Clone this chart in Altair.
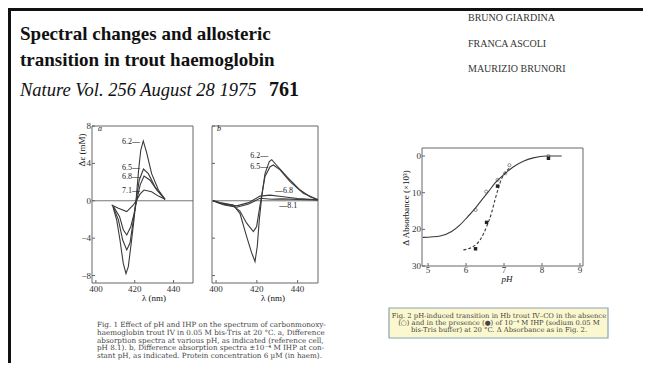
import altair as alt
import pandas as pd

FONT = "Liberation Serif"
CAPFONT = "DejaVu Serif"
INK = "#3a3a3a"
AX = "#666666"

# ---------------- header ----------------
title_lines = ["Spectral changes and allosteric", "transition in trout haemoglobin"]
journal = "Nature Vol. 256 August 28 1975"
page_no = "761"
authors = ["BRUNO GIARDINA", "FRANCA ASCOLI", "MAURIZIO BRUNORI"]

# ---------------- Fig. 1a : difference spectra at various pH ----------------
a_names = ["6.2", "6.5", "6.8", "7.1"]
a62_lam = [408.5, 410.7, 412.4, 414.1, 415.5, 416.7, 418.4, 419.6, 420.7, 422.0, 423.1, 424.4, 426.2, 428.7, 432.2, 435.6]
a62_de = [-0.45, -2.05, -4.2, -6.7, -7.8, -7.05, -4.2, -2.05, 0.1, 3.3, 5.4, 6.4, 5.1, 2.9, 1.15, 0.15]
a65_lam = [409.0, 411.6, 413.8, 415.9, 417.6, 419.3, 420.7, 422.3, 424.5, 427.0, 430.4, 435.6]
a65_de = [-0.7, -2.05, -4.2, -5.26, -4.5, -2.05, 0.0, 2.2, 3.4, 2.9, 1.5, 0.15]
a68_lam = [409.0, 412.2, 414.1, 415.9, 418.0, 419.7, 421.1, 422.8, 424.8, 427.9, 431.3, 435.6]
a68_de = [-0.6, -1.7, -3.1, -3.66, -2.75, -1.35, 0.1, 1.7, 2.65, 2.2, 1.15, 0.15]
a71_lam = [408.1, 411.6, 415.9, 419.3, 421.1, 422.8, 424.8, 428.7, 432.2, 435.6]
a71_de = [-0.45, -0.8, -1.16, -0.45, 0.1, 0.73, 1.15, 0.97, 0.5, 0.15]
a_lab_lam = [422.7, 422.7, 422.7, 422.7]
a_lab_de = [6.3, 3.5, 2.5, 1.0]
a_lab_txt = ["6.2\u2014", "6.5\u2014", "6.8\u2014", "7.1\u2014"]

# ---------------- Fig. 1b : +/- IHP at constant pH ----------------
b_names = ["6.2", "6.5", "6.8", "8.1"]
b62_lam = [398.5, 401.9, 408.4, 411.7, 415.0, 417.5, 419.1, 420.2, 421.2, 422.4, 424.0, 426.1, 427.3, 429.7, 434.6, 441.2, 446.1, 450.0]
b62_de = [0.0, -0.2, -0.45, -1.34, -3.84, -5.6, -6.5, -4.9, -2.05, 0.44, 2.9, 4.2, 4.4, 3.8, 2.6, 1.15, 0.44, 0.1]
b65_lam = [398.5, 401.9, 408.4, 411.7, 415.0, 418.3, 419.9, 421.2, 422.4, 424.0, 426.5, 428.1, 431.4, 436.3, 442.8, 450.0]
b65_de = [0.0, -0.3, -0.55, -1.1, -2.4, -3.3, -2.75, -0.98, 0.6, 2.6, 3.65, 3.83, 3.3, 2.05, 0.8, 0.1]
b68_lam = [398.5, 404.0, 410.1, 416.0, 421.5, 426.5, 432.0, 440.0, 450.0]
b68_de = [0.0, -0.35, -0.55, -0.2, 0.5, 0.6, 0.45, 0.25, 0.1]
b81_lam = [398.5, 404.0, 410.1, 416.0, 421.5, 427.3, 432.0, 440.0, 450.0]
b81_de = [0.0, -0.45, -0.7, -0.35, 0.27, 0.16, 0.2, 0.15, 0.1]
b_lab_lam = [425.6, 425.6, 428.9, 431.0]
b_lab_de = [4.75, 3.65, 1.05, -0.6]
b_lab_txt = ["6.2\u2014", "6.5\u2014", "\u20146.8", "\u20148.1"]
b_lab_align = ["right", "right", "left", "left"]

# tick values
lam_ticks = [400, 420, 440]
de_ticks = [-8, -4, 0, 4, 8]
ph_ticks = [5, 6, 7, 8, 9]
abs_ticks = [0, 10, 20, 30]

# ---------------- Fig. 2 : pH-induced transition ----------------
sol_ph = [4.86, 5.32, 5.62, 5.84, 6.03, 6.24, 6.41, 6.59, 6.76, 6.98, 7.25, 7.51, 7.77, 8.12, 8.52]
sol_val = [22.2, 21.8, 20.6, 18.8, 16.7, 14.3, 12.0, 9.7, 7.4, 5.2, 2.9, 1.4, 0.5, 0.0, 0.0]
dash_ph = [5.93, 6.15, 6.37, 6.54, 6.68, 6.76, 6.85, 6.94, 7.05, 7.16]
dash_val = [25.6, 24.9, 22.9, 19.3, 15.2, 12.0, 8.8, 6.1, 4.3, 3.1]
open_ph = [6.25, 6.53, 6.83, 7.03, 7.14, 8.17]
open_val = [14.7, 9.7, 6.5, 4.7, 2.5, 0.0]
fill_ph = [6.25, 6.54, 6.83, 8.17]
fill_val = [25.3, 18.1, 8.2, 0.6]

# ---------------- captions ----------------
cap1 = [
    "Fig. 1  Effect of pH and IHP on the spectrum of carbonmonoxy-",
    "haemoglobin trout IV in 0.05 M bis-Tris at 20 \u00b0C. a, Difference",
    "absorption spectra at various pH, as indicated (reference cell,",
    "pH 8.1). b, Difference absorption spectra \u00b110\u207b\u2074 M IHP at con-",
    "stant pH, as indicated. Protein concentration 6 \u00b5M (in haem).",
]
cap2 = [
    "Fig. 2  pH-induced transition in Hb trout IV\u2013CO in the absence",
    "(\u25cb) and in the presence (\u25cf) of 10\u207b\u2074 M IHP (sodium 0.05 M",
    "bis-Tris buffer) at 20 \u00b0C. \u0394 Absorbance as in Fig. 2.",
]

W, H = 635, 355


def long(pairs, names):
    rows = []
    for name, (xs, ys) in zip(names, pairs):
        for i, (xv, yv) in enumerate(zip(xs, ys)):
            rows.append({"s": name, "x": xv, "y": yv, "i": i})
    return pd.DataFrame(rows)


def sc(dom, rng):
    return alt.Scale(domain=dom, range=rng, nice=False, zero=False)


def text(txt, x, y, size, **kw):
    color = kw.pop("color", "#111")
    font = kw.pop("font", FONT)
    return alt.Chart(pd.DataFrame({"t": [txt]})).mark_text(
        font=font, fontSize=size, color=color, lineBreak="\n", **kw
    ).encode(x=alt.value(x), y=alt.value(y), text="t:N")


layers = []


def panel(lines_df, xdom, xr, ydom, yr, xt, yt, ylabels=True, labels_df=None, zero=True,
          ylab_x=None, xlab_y=None):
    X = lambda f: alt.X(f, scale=sc(xdom, xr), axis=None)
    Y = lambda f: alt.Y(f, scale=sc(ydom, yr), axis=None)
    bottom, left = max(yr), xr[0]
    layers.append(alt.Chart(pd.DataFrame({"x": [xdom[0]], "x2": [xdom[1]], "y": [ydom[0]], "y2": [ydom[1]]})).mark_rect(
        filled=False, stroke=AX, strokeWidth=1).encode(x=X("x:Q"), x2="x2:Q", y=Y("y:Q"), y2="y2:Q"))
    # x ticks + labels
    xtd = pd.DataFrame({"x": xt, "t": [str(v) for v in xt]})
    layers.append(alt.Chart(xtd).mark_rule(color=AX, strokeWidth=1).encode(
        x=X("x:Q"), y=alt.value(bottom - 3), y2=alt.value(bottom)))
    layers.append(alt.Chart(xtd).mark_text(font=FONT, fontSize=9, color="#333", baseline="middle").encode(
        x=X("x:Q"), y=alt.value(xlab_y), text="t:N"))
    # y ticks + labels
    ytd = pd.DataFrame({"y": yt, "t": [str(v).replace("-", "\u2212") for v in yt]})
    layers.append(alt.Chart(ytd).mark_rule(color=AX, strokeWidth=1).encode(
        y=Y("y:Q"), x=alt.value(left), x2=alt.value(left + 3)))
    if ylabels:
        layers.append(alt.Chart(ytd).mark_text(font=FONT, fontSize=9, color="#333", align="right", baseline="middle").encode(
            y=Y("y:Q"), x=alt.value(ylab_x), text="t:N"))
    if zero:
        layers.append(alt.Chart(pd.DataFrame({"x": [xdom[0]], "x2": [xdom[1]], "y": [0]})).mark_rule(
            color=AX, strokeWidth=0.9).encode(x=X("x:Q"), x2="x2:Q", y=Y("y:Q")))
    if lines_df is not None:
        layers.append(alt.Chart(lines_df).mark_line(color=INK, strokeWidth=1.1).encode(
            x=X("x:Q"), y=Y("y:Q"), detail="s:N", order="i:Q"))
    if labels_df is not None:
        for al in ["left", "right"]:
            d = labels_df[labels_df["a"] == al]
            if len(d):
                layers.append(alt.Chart(d).mark_text(font=FONT, fontSize=8, align=al, baseline="middle", color="#222").encode(
                    x=X("x:Q"), y=Y("y:Q"), text="t:N"))
    return X, Y


# ---- page border and caption box ----
layers.append(alt.Chart(pd.DataFrame({"k": [0]})).mark_rule(color="#111", strokeWidth=3).encode(
    x=alt.value(0), x2=alt.value(W), y=alt.value(1.5)))
layers.append(alt.Chart(pd.DataFrame({"k": [0]})).mark_rule(color="#111", strokeWidth=3).encode(
    x=alt.value(1.5), y=alt.value(0), y2=alt.value(H)))
layers.append(alt.Chart(pd.DataFrame({"k": [0]})).mark_rect(fill="#fbf8cf", stroke="#8aa3b5", strokeWidth=1.2).encode(
    x=alt.value(381), x2=alt.value(600), y=alt.value(300), y2=alt.value(330)))

LAMD = [398, 450]
YD = [-8.8, 8]
YR = [275, 118]

# ---- Fig 1a ----
a_df = long([(a62_lam, a62_de), (a65_lam, a65_de), (a68_lam, a68_de), (a71_lam, a71_de)], a_names)
a_lab = pd.DataFrame({"x": a_lab_lam, "y": a_lab_de, "t": a_lab_txt, "a": ["right"] * 4})
panel(a_df, LAMD, [84, 185], YD, YR, lam_ticks, de_ticks, True, a_lab, ylab_x=83, xlab_y=281)

# ---- Fig 1b ----
b_df = long([(b62_lam, b62_de), (b65_lam, b65_de), (b68_lam, b68_de), (b81_lam, b81_de)], b_names)
b_lab = pd.DataFrame({"x": b_lab_lam, "y": b_lab_de, "t": b_lab_txt, "a": b_lab_align})
panel(b_df, LAMD, [204, 310], YD, YR, lam_ticks, de_ticks, False, b_lab, xlab_y=281)

# ---- Fig 2 (y reversed: 0 at the top) ----
PHD = [4.84, 9.08]
AD = [-2.2, 30]
Xp, Yp = panel(None, PHD, [414, 575], AD, [140, 258], ph_ticks, abs_ticks, True, None, zero=False,
               ylab_x=413, xlab_y=262)
sol_df = pd.DataFrame({"x": sol_ph, "y": sol_val})
dash_df = pd.DataFrame({"x": dash_ph, "y": dash_val})
open_df = pd.DataFrame({"x": open_ph, "y": open_val})
fill_df = pd.DataFrame({"x": fill_ph, "y": fill_val})
layers += [
    alt.Chart(sol_df).mark_line(color=INK, strokeWidth=1.1, interpolate="monotone").encode(x=Xp("x:Q"), y=Yp("y:Q")),
    alt.Chart(dash_df).mark_line(color=INK, strokeWidth=1.1, strokeDash=[3, 2], interpolate="monotone").encode(x=Xp("x:Q"), y=Yp("y:Q")),
    alt.Chart(open_df).mark_point(shape="circle", filled=False, size=10, color=INK, strokeWidth=0.8).encode(x=Xp("x:Q"), y=Yp("y:Q")),
    alt.Chart(fill_df).mark_point(shape="square", filled=True, size=12, color="#222", opacity=1).encode(x=Xp("x:Q"), y=Yp("y:Q")),
]

# ---- texts ----
layers += [
    text(title_lines[0], 12, 32, 19, fontWeight="bold", align="left", baseline="alphabetic"),
    text(title_lines[1], 12, 58, 19, fontWeight="bold", align="left", baseline="alphabetic"),
    text(journal, 12, 88, 18.5, fontStyle="italic", align="left", baseline="alphabetic"),
    text(page_no, 261, 88, 20, fontWeight="bold", align="left", baseline="alphabetic"),
    text(authors[0], 460, 12.5, 10, align="left", baseline="alphabetic", color="#333"),
    text(authors[1], 460, 38.5, 10, align="left", baseline="alphabetic", color="#333"),
    text(authors[2], 460, 63.5, 10, align="left", baseline="alphabetic", color="#333"),
    text("a", 90, 121, 8, fontStyle="italic", align="left", baseline="middle"),
    text("b", 209, 121, 8, fontStyle="italic", align="left", baseline="middle"),
    text("\u0394\u03b5 (mM)", 74, 142, 9, angle=270, align="center", baseline="middle"),
    text("\u03bb (nm)", 146, 290, 9, align="center", baseline="middle"),
    text("\u03bb (nm)", 265, 290, 9, align="center", baseline="middle"),
    text("\u0394 Absorbance (\u00d710\u00b3)", 398, 200, 9, angle=270, align="center", baseline="middle"),
    text("pH", 499, 271, 9, fontStyle="italic", align="center", baseline="middle"),
    text("\n".join(cap1), 89, 313, 7.2, align="left", baseline="top", lineHeight=7.8, color="#444", font=CAPFONT),
    text("\n".join(cap2), 491, 304.5, 6.8, align="center", baseline="top", lineHeight=7, color="#444", font=CAPFONT),
]

chart = alt.layer(*layers).resolve_scale(x="independent", y="independent").properties(
    width=W, height=H, autosize=alt.AutoSizeParams(type="none"), padding=0
).configure_view(stroke=None)

chart.save("out.html", embed_options={"renderer": "svg", "actions": False})
